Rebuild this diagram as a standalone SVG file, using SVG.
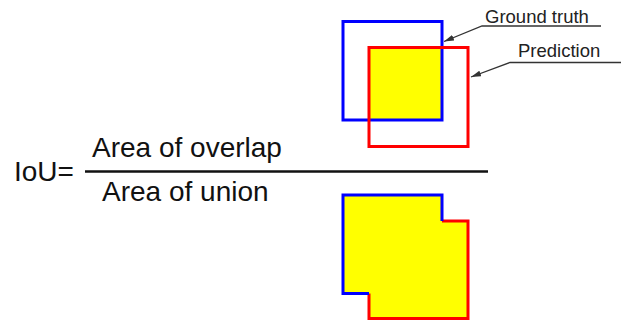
<svg xmlns="http://www.w3.org/2000/svg" width="621" height="324" viewBox="0 0 621 324">
  <style>
    .txt { font-family: "Liberation Sans", Arial, sans-serif; fill: #111; }
    .big { font-size: 28px; }
    .small { font-size: 18.5px; fill: #222; }
    .gt { fill: none; stroke: #0000ff; stroke-width: 3; }
    .pr { fill: none; stroke: #ff0000; stroke-width: 3; }
    .leader { fill: none; stroke: #333; stroke-width: 1.3; }
  </style>
  <defs>
    <marker id="arrow" viewBox="0 0 10 6" refX="10" refY="3" markerWidth="10" markerHeight="6" markerUnits="userSpaceOnUse" orient="auto">
      <path d="M0,0 L10,3 L0,6 Z" fill="#333"/>
    </marker>
  </defs>

  <!-- formula -->
  <g id="formula">
    <text class="txt big" x="14" y="181">IoU=</text>
    <text class="txt big" x="92" y="157">Area of overlap</text>
    <line x1="85" y1="171.5" x2="488" y2="171.5" stroke="#111" stroke-width="2.5"/>
    <text class="txt big" x="102" y="201">Area of union</text>
  </g>

  <!-- intersection of the two boxes -->
  <g id="overlap">
    <rect x="369" y="48" width="73" height="72" fill="#ffff00"/>
    <rect id="ground-truth-box" class="gt" x="343" y="21.5" width="99" height="98.5"/>
    <rect id="prediction-box" class="pr" x="369" y="47.5" width="99" height="99"/>
  </g>

  <!-- union shape -->
  <g id="union">
    <path d="M343,195 H442 V221 H468 V318.5 H369 V293.5 H343 Z" fill="#ffff00"/>
    <path class="pr" d="M442,221 H468 V318.5 H369 V293.5"/>
    <path class="gt" d="M369,293.5 H343 V195 H442 V221"/>
  </g>

  <!-- labels -->
  <g id="label-ground-truth">
    <text class="txt small" x="485" y="23">Ground truth</text>
  </g>
  <g id="label-prediction">
    <text class="txt small" x="518" y="57">Prediction</text>
  </g>

  <!-- leader lines -->
  <g id="connectors">
    <path class="leader" d="M601,26 H482 L444,41.5" marker-end="url(#arrow)"/>
    <path class="leader" d="M621,62.5 H510 L471,77" marker-end="url(#arrow)"/>
  </g>
</svg>
